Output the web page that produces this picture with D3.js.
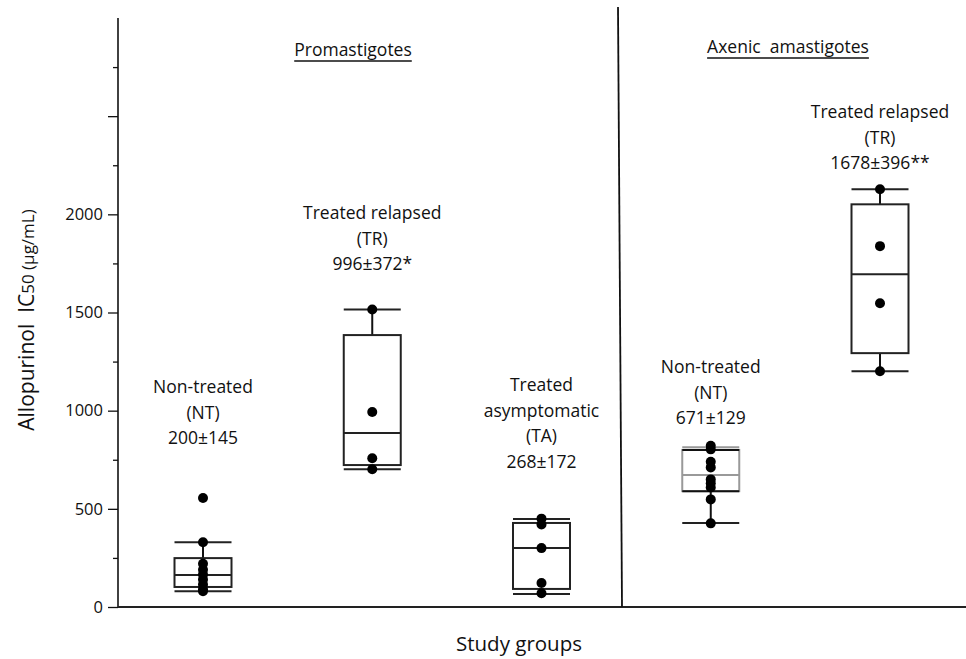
<!DOCTYPE html>
<html>
<head>
<meta charset="utf-8">
<script src="https://cdn.jsdelivr.net/npm/d3@7/dist/d3.min.js"></script>
<style>
  html, body { margin: 0; padding: 0; background: #fff; }
  svg { display: block; }
  text { font-family: "Open Sans", sans-serif; fill: #111; }
</style>
</head>
<body>
<script>
// ---------------- DATA ----------------
const groups = ["NT-P", "TR-P", "TA-P", "NT-A", "TR-A"];
const panels = ["Promastigotes", "Axenic  amastigotes"];
const whiskerLow  = [80, 702, 66, 428, 1201];
const q1          = [102, 723, 92, 590, 1293];
const median      = [163, 886, 300, 672, 1695];
const q3          = [249, 1385, 428, 800, 2051];
const whiskerHigh = [330, 1515, 448, 814, 2128];
const points = [
  [555, 330, 220, 190, 165, 140, 115, 90, 80],
  [1515, 993, 758, 702],
  [450, 420, 300, 122, 70],
  [821, 803, 740, 711, 650, 630, 609, 548, 426],
  [2128, 1838, 1547, 1201]
];
const groupLabels = [
  ["Non-treated", "(NT)", "200\u00B1145"],
  ["Treated relapsed", "(TR)", "996\u00B1372*"],
  ["Treated", "asymptomatic", "(TA)", "268\u00B1172"],
  ["Non-treated", "(NT)", "671\u00B1129"],
  ["Treated relapsed", "(TR)", "1678\u00B1396**"]
];
const yTickLabels = [0, 500, 1000, 1500, 2000];
const yMajorTicks = [0, 500, 1000, 1500, 2000, 2500];
const yMinorTicks = [250, 750, 1250, 1750, 2250, 2750];
const xTitle = "Study groups";

// ---------------- LAYOUT ----------------
const W = 966, H = 659;
const plotLeft = 118, plotRight = 966, plotTop = 18, plotBottom = 607;
const boxW = 57;
// first-line baseline of each group's annotation (pixels)
const labelTopY = [393, 219, 391, 373, 118];
const lineGap = 25.5;

const svg = d3.select("body").append("svg").attr("width", W).attr("height", H);

const y = d3.scaleLinear().domain([0, 3000]).range([plotBottom, plotTop]);
const x = d3.scalePoint().domain(groups).range([203, 880]);

// Axes
const yAxisMajor = d3.axisLeft(y).tickValues(yMajorTicks).tickSize(10)
  .tickFormat(d => yTickLabels.includes(d) ? d : "");
const gY = svg.append("g").attr("transform", `translate(${plotLeft},0)`).call(yAxisMajor);
gY.select(".domain").remove();
gY.selectAll(".tick line").attr("stroke", "#111").attr("stroke-width", 1.3);
gY.selectAll(".tick text").attr("font-size", 16.5).attr("x", -15).attr("font-family", "Open Sans, sans-serif").attr("fill", "#111");

const gYm = svg.append("g").attr("transform", `translate(${plotLeft},0)`)
  .call(d3.axisLeft(y).tickValues(yMinorTicks).tickSize(5).tickFormat(""));
gYm.select(".domain").remove();
gYm.selectAll(".tick line").attr("stroke", "#111").attr("stroke-width", 1.3);

svg.append("line").attr("x1", plotLeft).attr("x2", plotLeft)
  .attr("y1", y(3000)).attr("y2", y(0)).attr("stroke", "#111").attr("stroke-width", 1.6);
svg.append("line").attr("x1", plotLeft).attr("x2", plotRight)
  .attr("y1", y(0)).attr("y2", y(0)).attr("stroke", "#222").attr("stroke-width", 1.8);

// Panel divider
svg.append("line").attr("x1", 618).attr("y1", 7).attr("x2", 622).attr("y2", y(0))
  .attr("stroke", "#111").attr("stroke-width", 1.8);

// Axis titles
svg.append("text").attr("x", 519).attr("y", 651).attr("text-anchor", "middle")
  .attr("font-size", 20.5).text(xTitle);

const yt = svg.append("text").attr("transform", "translate(34,320) rotate(-90)")
  .attr("text-anchor", "middle").attr("font-size", 21)
  .attr("xml:space", "preserve").style("white-space", "pre");
yt.append("tspan").text("Allopurinol  IC");
yt.append("tspan").attr("font-size", 17).text("50");
yt.append("tspan").attr("font-size", 17).text(" (\u03BCg/mL)");

// Panel titles (underlined)
const panelPos = [{cx: 353, y: 56}, {cx: 788, y: 53}];
panels.forEach((p, i) => {
  const t = svg.append("text").attr("x", panelPos[i].cx).attr("y", panelPos[i].y)
    .attr("text-anchor", "middle").attr("font-size", 17.5)
    .style("white-space", "pre").attr("xml:space", "preserve").text(p);
  const bb = t.node().getBBox();
  svg.append("line").attr("x1", bb.x).attr("x2", bb.x + bb.width)
    .attr("y1", panelPos[i].y + 5).attr("y2", panelPos[i].y + 5)
    .attr("stroke", "#111").attr("stroke-width", 1.3);
});

// Boxes
groups.forEach((g, i) => {
  const cx = x(g);
  const gg = svg.append("g");
  const special = (i === 3);
  const boxStroke = special ? "#999" : "#222";
  // whiskers
  gg.append("line").attr("x1", cx).attr("x2", cx).attr("y1", y(q3[i])).attr("y2", y(whiskerHigh[i]))
    .attr("stroke", "#111").attr("stroke-width", 2);
  gg.append("line").attr("x1", cx).attr("x2", cx).attr("y1", y(q1[i])).attr("y2", y(whiskerLow[i]))
    .attr("stroke", "#111").attr("stroke-width", 2);
  // caps
  gg.append("line").attr("x1", cx - boxW / 2).attr("x2", cx + boxW / 2)
    .attr("y1", y(whiskerHigh[i])).attr("y2", y(whiskerHigh[i]))
    .attr("stroke", special ? "#999" : "#222").attr("stroke-width", 2);
  gg.append("line").attr("x1", cx - boxW / 2).attr("x2", cx + boxW / 2)
    .attr("y1", y(whiskerLow[i])).attr("y2", y(whiskerLow[i]))
    .attr("stroke", "#222").attr("stroke-width", 2);
  // box
  gg.append("rect").attr("x", cx - boxW / 2).attr("width", boxW)
    .attr("y", y(q3[i])).attr("height", y(q1[i]) - y(q3[i]))
    .attr("fill", "none").attr("stroke", boxStroke).attr("stroke-width", 2);
  gg.append("line").attr("x1", cx - boxW / 2).attr("x2", cx + boxW / 2)
    .attr("y1", y(median[i])).attr("y2", y(median[i]))
    .attr("stroke", boxStroke).attr("stroke-width", 2);
  if (special) {
    [q3[i], q1[i]].forEach(v => {
      gg.append("line").attr("x1", cx - boxW / 2).attr("x2", cx + boxW / 2)
        .attr("y1", y(v)).attr("y2", y(v)).attr("stroke", "#111").attr("stroke-width", 2);
    });
  }
  // points
  gg.selectAll("circle").data(points[i]).join("circle")
    .attr("cx", cx).attr("cy", d => y(d)).attr("r", 5).attr("fill", "#000");
  // labels
  groupLabels[i].forEach((ln, k) => {
    svg.append("text").attr("x", cx).attr("y", labelTopY[i] + k * lineGap)
      .attr("text-anchor", "middle").attr("font-size", 17.5).text(ln);
  });
});
</script>
</body>
</html>
